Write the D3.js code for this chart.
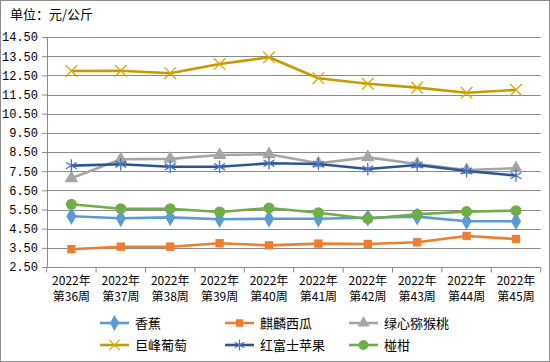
<!DOCTYPE html>
<html lang="zh">
<head>
<meta charset="UTF-8">
<title>水果价格周走势</title>
<script src="https://d3js.org/d3.v7.min.js"></script>
<style>
  body { margin: 0; background: #fff; }
  svg { display: block; font-family: "Noto Sans CJK SC", "DejaVu Sans", sans-serif; }
</style>
</head>
<body>
<svg width="550" height="362"></svg>
<script>
// chart data
const weeks = ["第36周", "第37周", "第38周", "第39周", "第40周", "第41周", "第42周", "第43周", "第44周", "第45周"];
const year = "2022年";
const yTicks = [2.5, 3.5, 4.5, 5.5, 6.5, 7.5, 8.5, 9.5, 10.5, 11.5, 12.5, 13.5, 14.5];

const banana = [5.15, 5.04, 5.09, 4.99, 5.02, 5.02, 5.07, 5.13, 4.89, 4.89];
const watermelon = [3.43, 3.56, 3.56, 3.74, 3.63, 3.72, 3.70, 3.79, 4.12, 3.96];
const kiwi = [7.13, 8.12, 8.14, 8.34, 8.38, 7.91, 8.22, 7.87, 7.56, 7.65];
const grape = [12.73, 12.74, 12.61, 13.09, 13.44, 12.35, 12.06, 11.86, 11.59, 11.74];
const apple = [7.79, 7.86, 7.73, 7.73, 7.91, 7.87, 7.61, 7.82, 7.51, 7.27];
const orange = [5.77, 5.54, 5.54, 5.37, 5.58, 5.33, 5.02, 5.25, 5.39, 5.44];

const series = [
  { name: "香蕉", values: banana, line: "#5B9BD5", fill: "#5B9BD5", symbol: d3.symbolDiamond, size: 90 },
  { name: "麒麟西瓜", values: watermelon, line: "#ED7D31", fill: "#ED7D31", symbol: d3.symbolSquare, size: 70 },
  { name: "绿心猕猴桃", values: kiwi, line: "#A5A5A5", fill: "#A5A5A5", symbol: d3.symbolTriangle, size: 80 },
  { name: "巨峰葡萄", values: grape, line: "#C79A00", fill: "none", stroke: "#D9A800", symbol: d3.symbolX, size: 90 },
  { name: "红富士苹果", values: apple, line: "#2F5597", fill: "none", stroke: "#4472C4", symbol: d3.symbolAsterisk, size: 110 },
  { name: "椪柑", values: orange, line: "#70AD47", fill: "#70AD47", symbol: d3.symbolCircle, size: 95 }
];

const svg = d3.select("svg");
const W = 550, H = 362;

// outer frame
svg.append("rect")
  .attr("x", 0.5).attr("y", 0.5)
  .attr("width", W - 1).attr("height", H - 1)
  .attr("fill", "#fff").attr("stroke", "#8c8c8c");

const x = d3.scaleBand().domain(weeks).range([46.7, 540.7]);
const y = d3.scaleLinear().domain([2.5, 14.5]).range([267, 37]);

// unit label
svg.append("text")
  .attr("x", 10).attr("y", 19)
  .attr("font-size", 13)
  .attr("fill", "#000")
  .text("单位：元/公斤");

// gridlines
svg.append("g")
  .selectAll("line")
  .data(yTicks.slice(1))
  .join("line")
  .attr("x1", 46.7).attr("x2", 540.7)
  .attr("y1", d => Math.round(y(d)) + 0.5)
  .attr("y2", d => Math.round(y(d)) + 0.5)
  .attr("stroke", "#8a8a8a");

// y axis
const yAxis = svg.append("g")
  .attr("transform", "translate(47,0)")
  .call(d3.axisLeft(y).tickValues(yTicks).tickFormat(d3.format(".2f")).tickSize(5).tickPadding(4));
yAxis.selectAll("path, line").attr("stroke", "#8a8a8a");
yAxis.selectAll("text").attr("font-size", 12).attr("fill", "#000")
  .attr("font-family", "\"Liberation Mono\", \"DejaVu Sans Mono\", monospace");

// x axis
const xAxis = svg.append("g")
  .attr("transform", `translate(0,${Math.round(y(2.5)) + 0.5})`)
  .call(d3.axisBottom(x).tickSize(5).tickFormat(""));
xAxis.select(".domain").attr("stroke", "#8a8a8a").attr("d", `M46.7,0H540.7`);
xAxis.selectAll(".tick").remove();
xAxis.selectAll(".edge")
  .data(weeks.map(w => x(w)).concat([540.7]))
  .join("line")
  .attr("x1", d => d).attr("x2", d => d)
  .attr("y1", 0).attr("y2", 5)
  .attr("stroke", "#8a8a8a");

const labels = svg.append("g").attr("font-size", 12).attr("fill", "#000").attr("text-anchor", "middle");
weeks.forEach(w => {
  const cx = x(w) + x.bandwidth() / 2;
  labels.append("text").attr("x", cx).attr("y", 285).text(year);
  labels.append("text").attr("x", cx).attr("y", 301).text(w);
});

// lines and markers
const line = d3.line()
  .x((d, i) => x(weeks[i]) + x.bandwidth() / 2)
  .y(d => y(d));

series.forEach(s => {
  const g = svg.append("g");
  g.append("path")
    .datum(s.values)
    .attr("d", line)
    .attr("fill", "none")
    .attr("stroke", s.line)
    .attr("stroke-width", 2.6)
    .attr("stroke-linejoin", "round");
  g.selectAll("path.m")
    .data(s.values)
    .join("path")
    .attr("class", "m")
    .attr("transform", (d, i) => `translate(${x(weeks[i]) + x.bandwidth() / 2},${y(d)})`)
    .attr("d", d3.symbol(s.symbol, s.size))
    .attr("fill", s.fill)
    .attr("stroke", s.stroke || s.fill)
    .attr("stroke-width", s.stroke ? 1.3 : 0);
});

// legend
const legendPos = [[100, 323], [225, 323], [349, 323], [100, 345], [225, 345], [349, 345]];
series.forEach((s, i) => {
  const [lx, ly] = legendPos[i];
  const g = svg.append("g").attr("transform", `translate(${lx},${ly})`);
  g.append("line").attr("x1", 0).attr("x2", 29).attr("y1", 0).attr("y2", 0)
    .attr("stroke", s.line).attr("stroke-width", 2.6);
  g.append("path")
    .attr("transform", "translate(14.5,0)")
    .attr("d", d3.symbol(s.symbol, s.size * 0.8))
    .attr("fill", s.fill)
    .attr("stroke", s.stroke || s.fill)
    .attr("stroke-width", s.stroke ? 1.2 : 0);
  g.append("text").attr("x", 35).attr("y", 5).attr("font-size", 13).attr("fill", "#000").text(s.name);
});
</script>
</body>
</html>
